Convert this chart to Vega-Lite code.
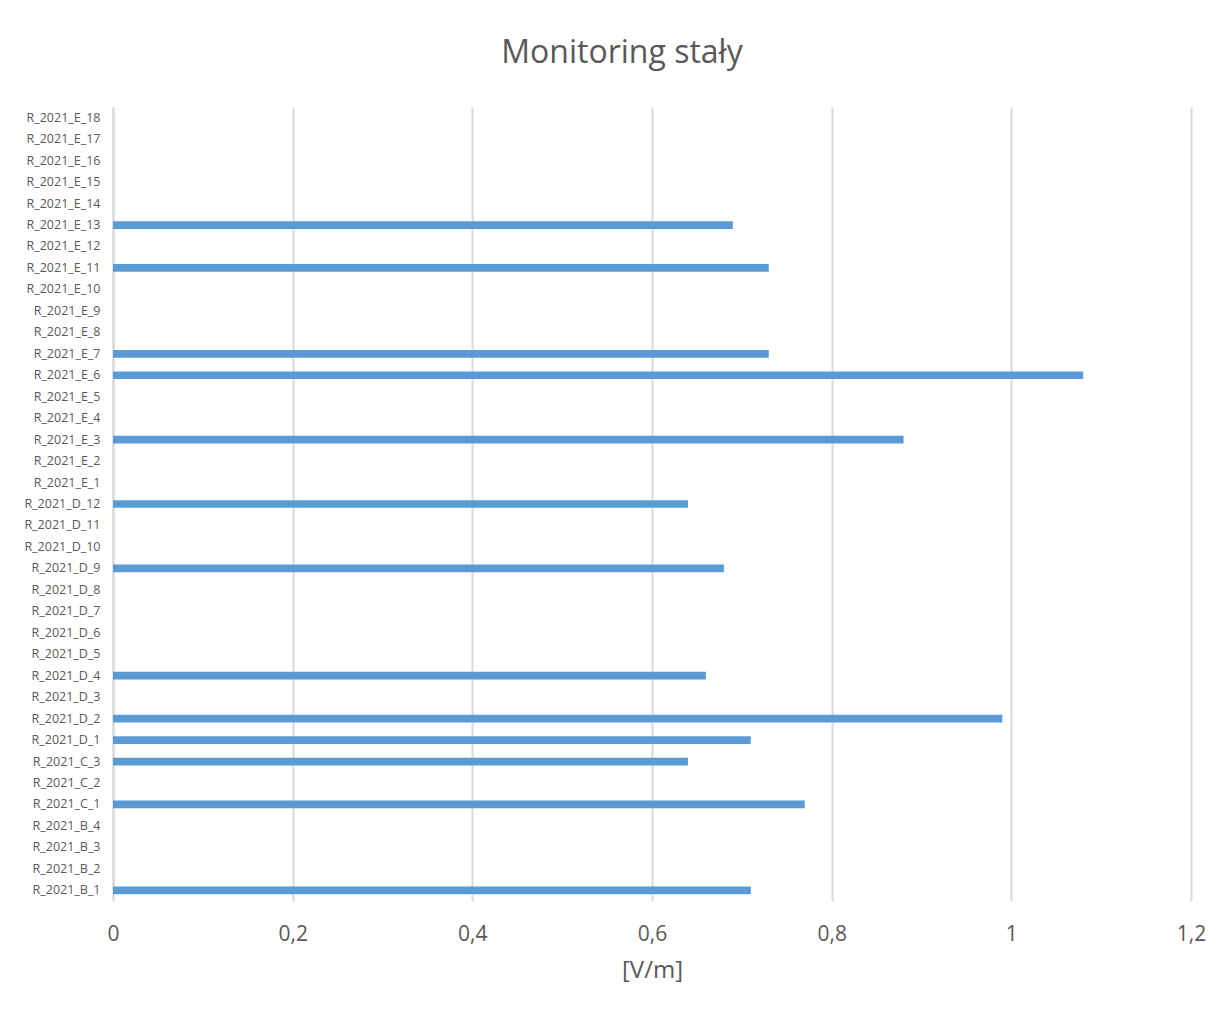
{
  "$schema": "https://vega.github.io/schema/vega-lite/v6.json",
  "autosize": "none",
  "width": 1078,
  "height": 794,
  "padding": {"left": 113, "top": 107, "right": 34, "bottom": 114},
  "background": "#ffffff",
  "title": {
    "text": "Monitoring stały",
    "font": "Open Sans",
    "fontSize": 32,
    "fontWeight": "normal",
    "color": "#595959",
    "anchor": "middle",
    "dx": -30,
    "offset": 37
  },
  "data": {
    "values": [
      {"punkt": "R_2021_E_18", "wartosc": null},
      {"punkt": "R_2021_E_17", "wartosc": null},
      {"punkt": "R_2021_E_16", "wartosc": null},
      {"punkt": "R_2021_E_15", "wartosc": null},
      {"punkt": "R_2021_E_14", "wartosc": null},
      {"punkt": "R_2021_E_13", "wartosc": 0.69},
      {"punkt": "R_2021_E_12", "wartosc": null},
      {"punkt": "R_2021_E_11", "wartosc": 0.73},
      {"punkt": "R_2021_E_10", "wartosc": null},
      {"punkt": "R_2021_E_9", "wartosc": null},
      {"punkt": "R_2021_E_8", "wartosc": null},
      {"punkt": "R_2021_E_7", "wartosc": 0.73},
      {"punkt": "R_2021_E_6", "wartosc": 1.08},
      {"punkt": "R_2021_E_5", "wartosc": null},
      {"punkt": "R_2021_E_4", "wartosc": null},
      {"punkt": "R_2021_E_3", "wartosc": 0.88},
      {"punkt": "R_2021_E_2", "wartosc": null},
      {"punkt": "R_2021_E_1", "wartosc": null},
      {"punkt": "R_2021_D_12", "wartosc": 0.64},
      {"punkt": "R_2021_D_11", "wartosc": null},
      {"punkt": "R_2021_D_10", "wartosc": null},
      {"punkt": "R_2021_D_9", "wartosc": 0.68},
      {"punkt": "R_2021_D_8", "wartosc": null},
      {"punkt": "R_2021_D_7", "wartosc": null},
      {"punkt": "R_2021_D_6", "wartosc": null},
      {"punkt": "R_2021_D_5", "wartosc": null},
      {"punkt": "R_2021_D_4", "wartosc": 0.66},
      {"punkt": "R_2021_D_3", "wartosc": null},
      {"punkt": "R_2021_D_2", "wartosc": 0.99},
      {"punkt": "R_2021_D_1", "wartosc": 0.71},
      {"punkt": "R_2021_C_3", "wartosc": 0.64},
      {"punkt": "R_2021_C_2", "wartosc": null},
      {"punkt": "R_2021_C_1", "wartosc": 0.77},
      {"punkt": "R_2021_B_4", "wartosc": null},
      {"punkt": "R_2021_B_3", "wartosc": null},
      {"punkt": "R_2021_B_2", "wartosc": null},
      {"punkt": "R_2021_B_1", "wartosc": 0.71}
    ]
  },
  "mark": {"type": "bar", "color": "#5b9bd5"},
  "encoding": {
    "y": {
      "field": "punkt",
      "type": "nominal",
      "sort": null,
      "scale": {
        "domain": [
          "R_2021_E_18", "R_2021_E_17", "R_2021_E_16", "R_2021_E_15", "R_2021_E_14",
          "R_2021_E_13", "R_2021_E_12", "R_2021_E_11", "R_2021_E_10", "R_2021_E_9",
          "R_2021_E_8", "R_2021_E_7", "R_2021_E_6", "R_2021_E_5", "R_2021_E_4",
          "R_2021_E_3", "R_2021_E_2", "R_2021_E_1", "R_2021_D_12", "R_2021_D_11",
          "R_2021_D_10", "R_2021_D_9", "R_2021_D_8", "R_2021_D_7", "R_2021_D_6",
          "R_2021_D_5", "R_2021_D_4", "R_2021_D_3", "R_2021_D_2", "R_2021_D_1",
          "R_2021_C_3", "R_2021_C_2", "R_2021_C_1", "R_2021_B_4", "R_2021_B_3",
          "R_2021_B_2", "R_2021_B_1"
        ],
        "paddingInner": 0.64,
        "paddingOuter": 0.32
      },
      "axis": {
        "title": null,
        "grid": false,
        "ticks": false,
        "tickSize": 0,
        "domain": true,
        "domainColor": "#d9d9d9",
        "domainWidth": 2,
        "labelFont": "Open Sans",
        "labelFontSize": 12.5,
        "labelColor": "#595959",
        "labelPadding": 13
      }
    },
    "x": {
      "field": "wartosc",
      "type": "quantitative",
      "scale": {"domain": [0, 1.2], "nice": false},
      "axis": {
        "title": "[V/m]",
        "titleFont": "Open Sans",
        "titleFontSize": 24,
        "titleFontWeight": "normal",
        "titleColor": "#595959",
        "titlePadding": 14,
        "values": [0, 0.2, 0.4, 0.6, 0.8, 1, 1.2],
        "labelExpr": "replace(format(datum.value, '~g'), '.', ',')",
        "labelFont": "Open Sans",
        "labelFontSize": 21,
        "labelColor": "#595959",
        "labelPadding": 22,
        "labelFlush": false,
        "labelOverlap": false,
        "ticks": false,
        "tickSize": 0,
        "domain": false,
        "grid": true,
        "gridColor": "#d9d9d9",
        "gridWidth": 2
      }
    }
  },
  "config": {
    "view": {"stroke": null}
  }
}
